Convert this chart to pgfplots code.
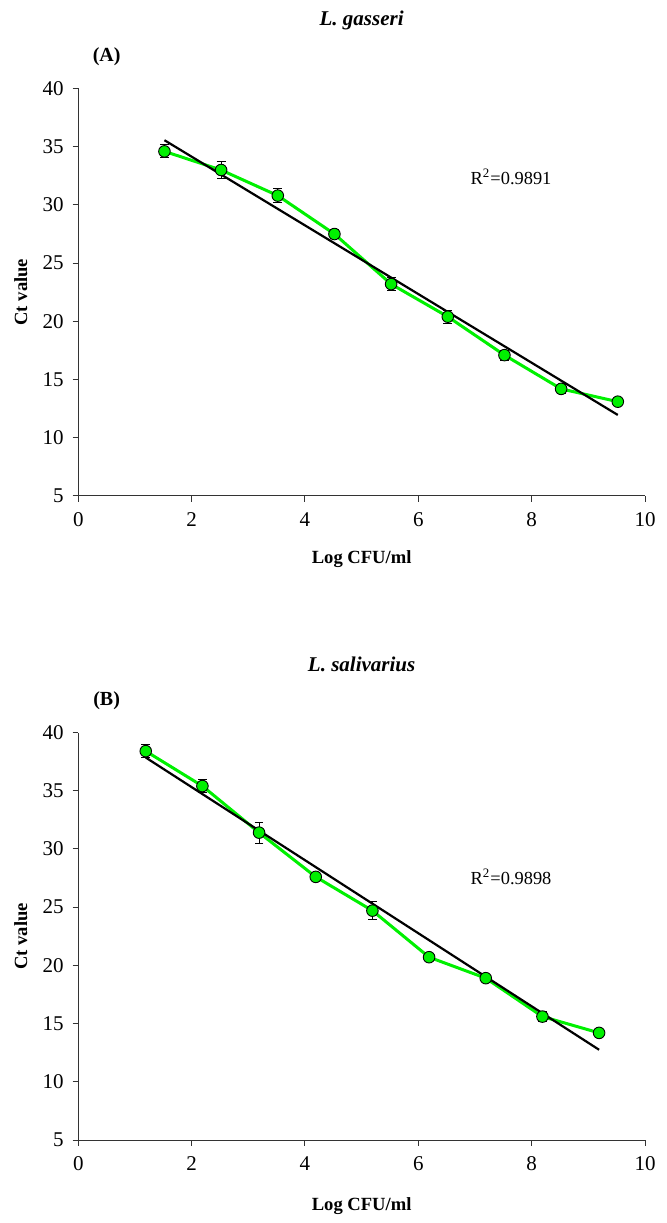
\documentclass[border=0pt]{standalone}
\usepackage{fontspec}
\setmainfont{Liberation Serif}
\usepackage{pgfplots}
\pgfplotsset{compat=1.18}
\usepackage{pgfplotstable}

\definecolor{lime}{RGB}{0,240,0}

\pgfplotstableread{
x y e
1.52 34.6 0.56
2.52 33.0 0.77
3.52 30.8 0.62
4.52 27.5 0.39
5.52 23.2 0.55
6.52 20.4 0.56
7.52 17.1 0.42
8.52 14.2 0.40
9.52 13.1 0.30
}\dataA

\pgfplotstableread{
x y e
1.19 38.4 0.57
2.19 35.4 0.57
3.19 31.4 0.90
4.19 27.6 0.30
5.19 24.7 0.80
6.19 20.7 0.30
7.19 18.9 0.30
8.19 15.6 0.43
9.19 14.2 0.40
}\dataB

\pgfplotstableread{
x y
1.52 35.56
9.52 11.96
}\fitA

\pgfplotstableread{
x y
1.19 37.85
9.19 12.75
}\fitB

\pgfplotsset{
  panel/.style={
    scale only axis, width=283.35pt, height=203.75pt,
    xmin=0, xmax=10, ymin=5, ymax=40,
    xtick={0,2,...,10}, ytick={5,10,...,40},
    axis x line*=bottom, axis y line*=left,
    axis line style={black!80, line width=0.5pt, -},
    tick style={black!80, line width=0.5pt},
    tick align=outside, major tick length=2.8pt,
    tick label style={font=\fontsize{10.5}{12}\selectfont},
    xticklabel style={yshift=-2pt},
    yticklabel style={xshift=-1pt},
    /pgf/number format/assume math mode=true,
    xlabel={Log CFU/ml}, ylabel={Ct value},
    label style={font=\fontsize{9.3}{11}\selectfont\bfseries},
    ylabel style={at={(axis description cs:-0.1016,0.5)}, anchor=center, rotate=0},
    title style={at={(axis description cs:0.5,1.137)}, anchor=center, font=\fontsize{10.5}{12}\selectfont\bfseries\itshape},
    clip=false,
  },
  greenline/.style={color=lime, line width=1.5pt, no marks},
  fitline/.style={color=black, line width=1.1pt, no marks},
  pts/.style={only marks, mark=*, mark size=2.9pt,
    mark options={fill=lime, draw=black, line width=0.45pt},
    error bars/.cd, y dir=both, y explicit,
    error bar style={black, line width=0.5pt},
    error mark options={rotate=90, mark size=2.2pt, black, line width=0.5pt}},
}

\begin{document}
\begin{tikzpicture}
\useasboundingbox (0,0) rectangle (333pt,611.5pt);

\begin{axis}[panel, at={(39.15pt,363.5pt)}, anchor=south west,
  title={L. gasseri},
  xlabel style={at={(axis description cs:0.5,-0.155)}, anchor=center}]
  \addplot[greenline] table[x=x,y=y]{\dataA};
  \addplot[fitline] table[x=x,y=y]{\fitA};
  \addplot[pts] table[x=x,y=y,y error=e]{\dataA};
  \node[font=\fontsize{10}{12}\selectfont\bfseries] at (axis description cs:0.05,1.078) {(A)};
  \node[anchor=west, font=\fontsize{9.2}{11}\selectfont] at (axis cs:6.8,32.4) {R\textsuperscript{2}=0.9891};
\end{axis}

\begin{axis}[panel, at={(39.15pt,41.5pt)}, anchor=south west,
  title={L. salivarius},
  xlabel style={at={(axis description cs:0.5,-0.163)}, anchor=center}]
  \addplot[greenline] table[x=x,y=y]{\dataB};
  \addplot[fitline] table[x=x,y=y]{\fitB};
  \addplot[pts] table[x=x,y=y,y error=e]{\dataB};
  \node[font=\fontsize{10}{12}\selectfont\bfseries] at (axis description cs:0.05,1.078) {(B)};
  \node[anchor=west, font=\fontsize{9.2}{11}\selectfont] at (axis cs:6.8,27.6) {R\textsuperscript{2}=0.9898};
\end{axis}
\end{tikzpicture}
\end{document}
